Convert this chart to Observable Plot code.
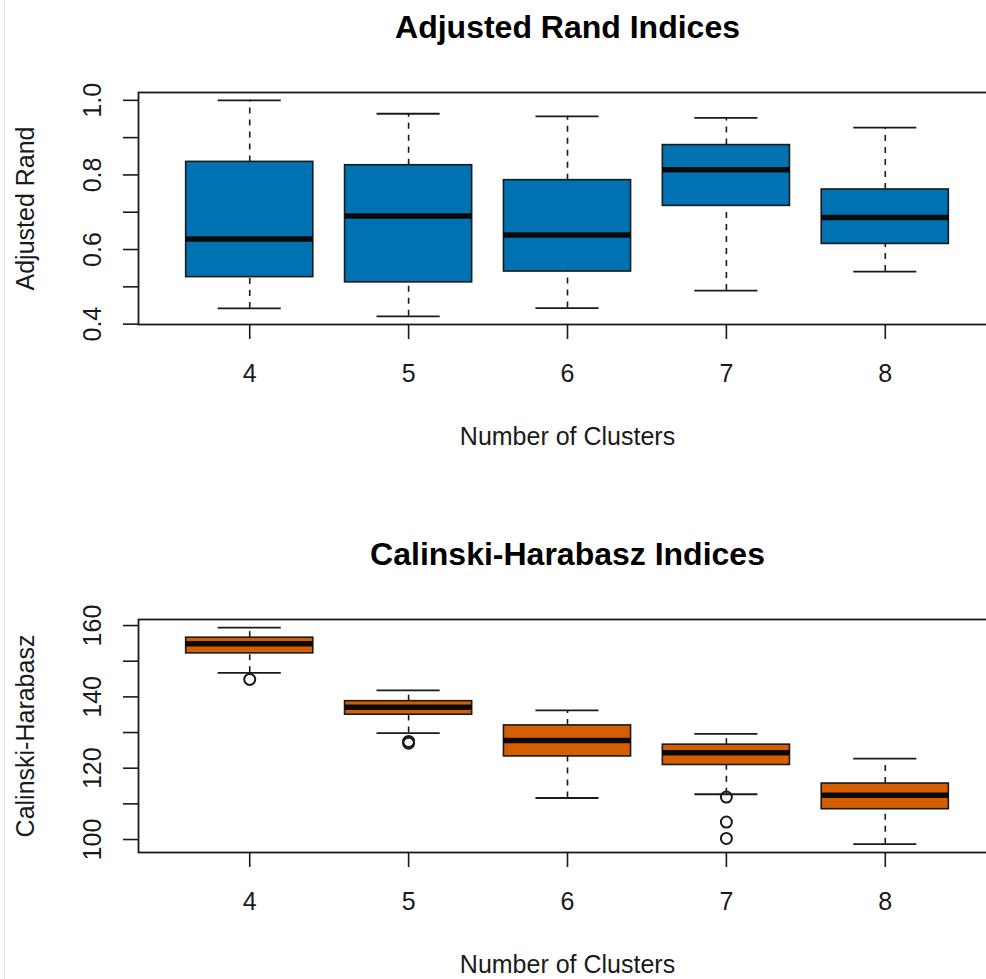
<!DOCTYPE html>
<html><head><meta charset="utf-8">
<script src="https://cdn.jsdelivr.net/npm/d3@7"></script>
<script src="https://cdn.jsdelivr.net/npm/@observablehq/plot@0.6"></script>
<style>
html,body{margin:0;padding:0;background:#fff;overflow:hidden;width:986px;height:979px}
#wrap{position:relative;width:986px;height:979px;overflow:hidden;background:#fff}
#wrap svg{display:block;max-width:none !important;width:997px !important}
#edge{position:absolute;left:4px;top:0;width:1px;height:979px;background:#e4e4e4}
</style></head><body><div id="wrap"><div id="edge"></div></div>
<script>
// ---- data ----
const clusters = [4, 5, 6, 7, 8];

const randTitle = "Adjusted Rand Indices";
const randYLabel = "Adjusted Rand";
const randLower  = [0.442, 0.421, 0.443, 0.490, 0.541];
const randQ1     = [0.526, 0.512, 0.541, 0.717, 0.615];
const randMedian = [0.628, 0.690, 0.639, 0.814, 0.686];
const randQ3     = [0.835, 0.826, 0.786, 0.880, 0.761];
const randUpper  = [1.000, 0.964, 0.957, 0.953, 0.927];
const randOutlierCluster = [];
const randOutlierValue = [];
const randTicks = [0.4, 0.5, 0.6, 0.7, 0.8, 0.9, 1.0];
const randTickLabelValues = [0.4, 0.6, 0.8, 1.0];
const randTickLabels = ["0.4", "0.6", "0.8", "1.0"];
const randDomain = [0.399, 1.021];

const chTitle = "Calinski-Harabasz Indices";
const chYLabel = "Calinski-Harabasz";
const chLower  = [146.75, 129.85, 111.65, 112.7, 98.7];
const chQ1     = [152.2, 135.0, 123.3, 120.9, 108.5];
const chMedian = [154.9, 137.1, 127.8, 124.35, 112.4];
const chQ3     = [156.6, 138.8, 132.0, 126.6, 115.7];
const chUpper  = [159.4, 141.8, 136.2, 129.6, 122.7];
const chOutlierCluster = [4, 5, 5, 7, 7, 7];
const chOutlierValue   = [144.9, 127.5, 127.0, 111.9, 104.9, 100.3];
const chTicks = [100, 110, 120, 130, 140, 150, 160];
const chTickLabelValues = [100, 120, 140, 160];
const chTickLabels = ["100", "120", "140", "160"];
const chDomain = [96.36, 161.7];

const xLabel = "Number of Clusters";

const BLUE = "#0072B2";
const ORANGE = "#D55E00";
const INK = "#1a1a1a";
const FONT = "'Liberation Sans', Arial, Helvetica, sans-serif";

function panel({title, ylabel, lower, q1, med, q3, upper, outK, outV, ticks, labelValues, labels, domain, fill, height, marginTop, marginBottom}) {
  const stats = clusters.map((k, i) => ({k, lo: lower[i], q1: q1[i], med: med[i], q3: q3[i], hi: upper[i]}));
  const outliers = outK.map((k, i) => ({k, v: outV[i]}));
  return Plot.plot({
    width: 997,
    height,
    marginLeft: 138,
    marginRight: 1,
    marginTop,
    marginBottom,
    style: {fontFamily: FONT, fontSize: "25px", background: "transparent", color: INK, maxWidth: "none"},
    x: {type: "band", domain: clusters, paddingInner: 0.2, paddingOuter: 0.3, round: false},
    y: {domain, nice: false},
    marks: [
      // dashed whiskers
      Plot.ruleX(stats, {x: "k", y1: "q3", y2: "hi", stroke: INK, strokeWidth: 1.6, strokeDasharray: "6,6"}),
      Plot.ruleX(stats, {x: "k", y1: "lo", y2: "q1", stroke: INK, strokeWidth: 1.6, strokeDasharray: "6,6"}),
      // whisker caps
      Plot.tickY(stats, {x: "k", y: "hi", stroke: INK, strokeWidth: 1.8, insetLeft: 32, insetRight: 32}),
      Plot.tickY(stats, {x: "k", y: "lo", stroke: INK, strokeWidth: 1.8, insetLeft: 32, insetRight: 32}),
      // boxes
      Plot.barY(stats, {x: "k", y1: "q1", y2: "q3", fill, stroke: INK, strokeWidth: 1.6}),
      // medians
      Plot.tickY(stats, {x: "k", y: "med", stroke: "#0a0a0a", strokeWidth: 5.5}),
      // outliers
      Plot.dot(outliers, {x: "k", y: "v", r: 5.5, stroke: INK, strokeWidth: 2, fill: "none"}),
      // frame and axes
      Plot.frame({stroke: INK, strokeWidth: 1.8}),
      Plot.axisX({tickSize: 15, tickFormat: () => "", label: null, stroke: INK, strokeWidth: 1.6}),
      Plot.axisY({ticks, tickSize: 15, tickFormat: () => "", label: null, stroke: INK, strokeWidth: 1.6}),
      // tick labels
      Plot.text(clusters, {x: (d) => d, text: (d) => String(d), frameAnchor: "bottom", dy: 57, lineAnchor: "bottom", fontSize: 25, fill: INK}),
      Plot.text(labelValues, {y: (d) => d, text: (d, i) => labels[i], frameAnchor: "left", dx: -38, rotate: -90, textAnchor: "middle", lineAnchor: "bottom", fontSize: 25, fill: INK}),
      // axis titles
      Plot.text([xLabel], {text: (d) => d, frameAnchor: "bottom", dy: 120, lineAnchor: "bottom", fontSize: 25, fill: INK}),
      Plot.text([ylabel], {text: (d) => d, frameAnchor: "left", dx: -104.5, rotate: -90, textAnchor: "middle", lineAnchor: "bottom", fontSize: 25, fill: INK}),
      // main title
      Plot.text([title], {text: (d) => d, frameAnchor: "top", dy: -55, lineAnchor: "bottom", fontSize: 32, fontWeight: "bold", fill: "#000"})
    ]
  });
}

const wrap = document.getElementById("wrap");
wrap.appendChild(panel({
  title: randTitle, ylabel: randYLabel,
  lower: randLower, q1: randQ1, med: randMedian, q3: randQ3, upper: randUpper,
  outK: randOutlierCluster, outV: randOutlierValue,
  ticks: randTicks, labelValues: randTickLabelValues, labels: randTickLabels,
  domain: randDomain, fill: BLUE,
  height: 490, marginTop: 92, marginBottom: 166
}));
wrap.appendChild(panel({
  title: chTitle, ylabel: chYLabel,
  lower: chLower, q1: chQ1, med: chMedian, q3: chQ3, upper: chUpper,
  outK: chOutlierCluster, outV: chOutlierValue,
  ticks: chTicks, labelValues: chTickLabelValues, labels: chTickLabels,
  domain: chDomain, fill: ORANGE,
  height: 489, marginTop: 129, marginBottom: 127
}));
</script>
</body></html>
